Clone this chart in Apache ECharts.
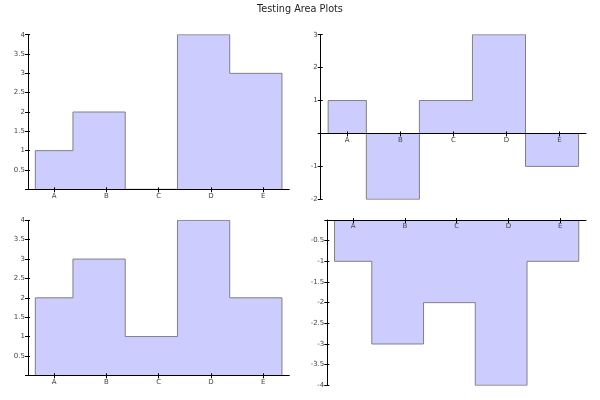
<!DOCTYPE html>
<html>
<head>
<meta charset="utf-8">
<script src="https://cdn.jsdelivr.net/npm/echarts@6/dist/echarts.min.js"></script>
<style>html,body{margin:0;padding:0;background:#fff}#c{width:600px;height:400px}</style>
</head>
<body>
<div id="c"></div>
<script>
// ---- data ----
var categories = ['A', 'B', 'C', 'D', 'E'];
var seriesTopLeft = [1, 2, 0, 4, 3];
var seriesTopRight = [1, -2, 1, 3, -1];
var seriesBottomLeft = [2, 3, 1, 4, 2];
var seriesBottomRight = [-1, -3, -2, -4, -1];
var titleText = 'Testing Area Plots';

// ---- layout (pixels) ----
var panels = [
  {vals: seriesTopLeft, grid: {left: 28, top: 34.7, width: 261.3, height: 154.6}, min: 0, max: 4, interval: 0.5},
  {vals: seriesTopRight, grid: {left: 320.7, top: 34.7, width: 265.3, height: 164.6}, min: -2, max: 3, interval: 1},
  {vals: seriesBottomLeft, grid: {left: 28, top: 220.3, width: 261.3, height: 155}, min: 0, max: 4, interval: 0.5},
  {vals: seriesBottomRight, grid: {left: 327.3, top: 220, width: 258.7, height: 165.3}, min: -4, max: 0, interval: 0.5}
];

// step offsets (in category units) as drawn in the reference
var STEP_START = -0.36, STEP_SHIFT = 0.36;
function stepData(vals) {
  var n = vals.length;
  var d = [[STEP_START, 0]];
  for (var i = 0; i < n; i++) d.push([i + STEP_SHIFT, vals[i]]);
  d.push([n - 1 + STEP_SHIFT, 0]);
  return d;
}

var FONT = 'DejaVu Sans';
var labelStyle = {fontFamily: FONT, fontSize: 7, color: '#444'};

var grids = [], xAxes = [], yAxes = [], series = [];
panels.forEach(function (p, k) {
  grids.push(Object.assign({containLabel: false}, p.grid));
  // place the category axis on the zero line (measured up from the grid bottom)
  var zeroOff = p.min < 0 ? -p.grid.height * (0 - p.min) / (p.max - p.min) : 0;
  // main category x axis (outside ticks, labels)
  xAxes.push({
    type: 'category', gridIndex: k, data: categories, boundaryGap: true, position: 'bottom', offset: zeroOff, z: 5,
    axisLine: {show: true, onZero: false, lineStyle: {color: '#000', width: 1}},
    axisTick: {show: true, alignWithLabel: true, inside: false, length: 3, lineStyle: {color: '#000'}},
    axisLabel: Object.assign({margin: 3}, labelStyle),
    splitLine: {show: false}
  });
  // companion x axis for the inner half of the ticks
  xAxes.push({
    type: 'category', gridIndex: k, data: categories, boundaryGap: true, position: 'bottom', offset: zeroOff, z: 5,
    axisLine: {show: false, onZero: false},
    axisTick: {show: true, alignWithLabel: true, inside: true, length: 2, lineStyle: {color: '#000'}},
    axisLabel: {show: false},
    splitLine: {show: false}
  });
  // hidden value x axis carrying the series
  var xv = xAxes.length;
  xAxes.push({type: 'value', gridIndex: k, min: -0.5, max: categories.length - 0.5, show: false, position: 'bottom'});

  var yi = yAxes.length;
  yAxes.push({
    type: 'value', gridIndex: k, min: p.min, max: p.max, interval: p.interval, position: 'left', z: 5,
    axisLine: {show: true, onZero: false, lineStyle: {color: '#000', width: 1}},
    axisTick: {show: true, inside: false, length: 3, lineStyle: {color: '#000'}},
    axisLabel: Object.assign({margin: 3, formatter: function (v) { return v === 0 ? '' : String(v); }}, labelStyle),
    splitLine: {show: false}
  });
  yAxes.push({
    type: 'value', gridIndex: k, min: p.min, max: p.max, interval: p.interval, position: 'left', z: 5,
    axisLine: {show: false, onZero: false},
    axisTick: {show: true, inside: true, length: 2, lineStyle: {color: '#000'}},
    axisLabel: {show: false},
    splitLine: {show: false}
  });

  series.push({
    type: 'line', xAxisIndex: xv, yAxisIndex: yi, step: 'start',
    data: stepData(p.vals), symbol: 'none', silent: true,
    lineStyle: {color: '#808080', width: 1},
    areaStyle: {color: '#ccccff', opacity: 1, origin: 0},
    z: 2
  });
});

var chart = echarts.init(document.getElementById('c'), null, {renderer: 'canvas'});
chart.setOption({
  animation: false,
  backgroundColor: '#fff',
  title: {text: titleText, left: 'center', top: -1, textStyle: {fontFamily: FONT, fontSize: 9.7, fontWeight: 'normal', color: '#222'}},
  grid: grids,
  xAxis: xAxes,
  yAxis: yAxes,
  series: series
});
</script>
</body>
</html>
